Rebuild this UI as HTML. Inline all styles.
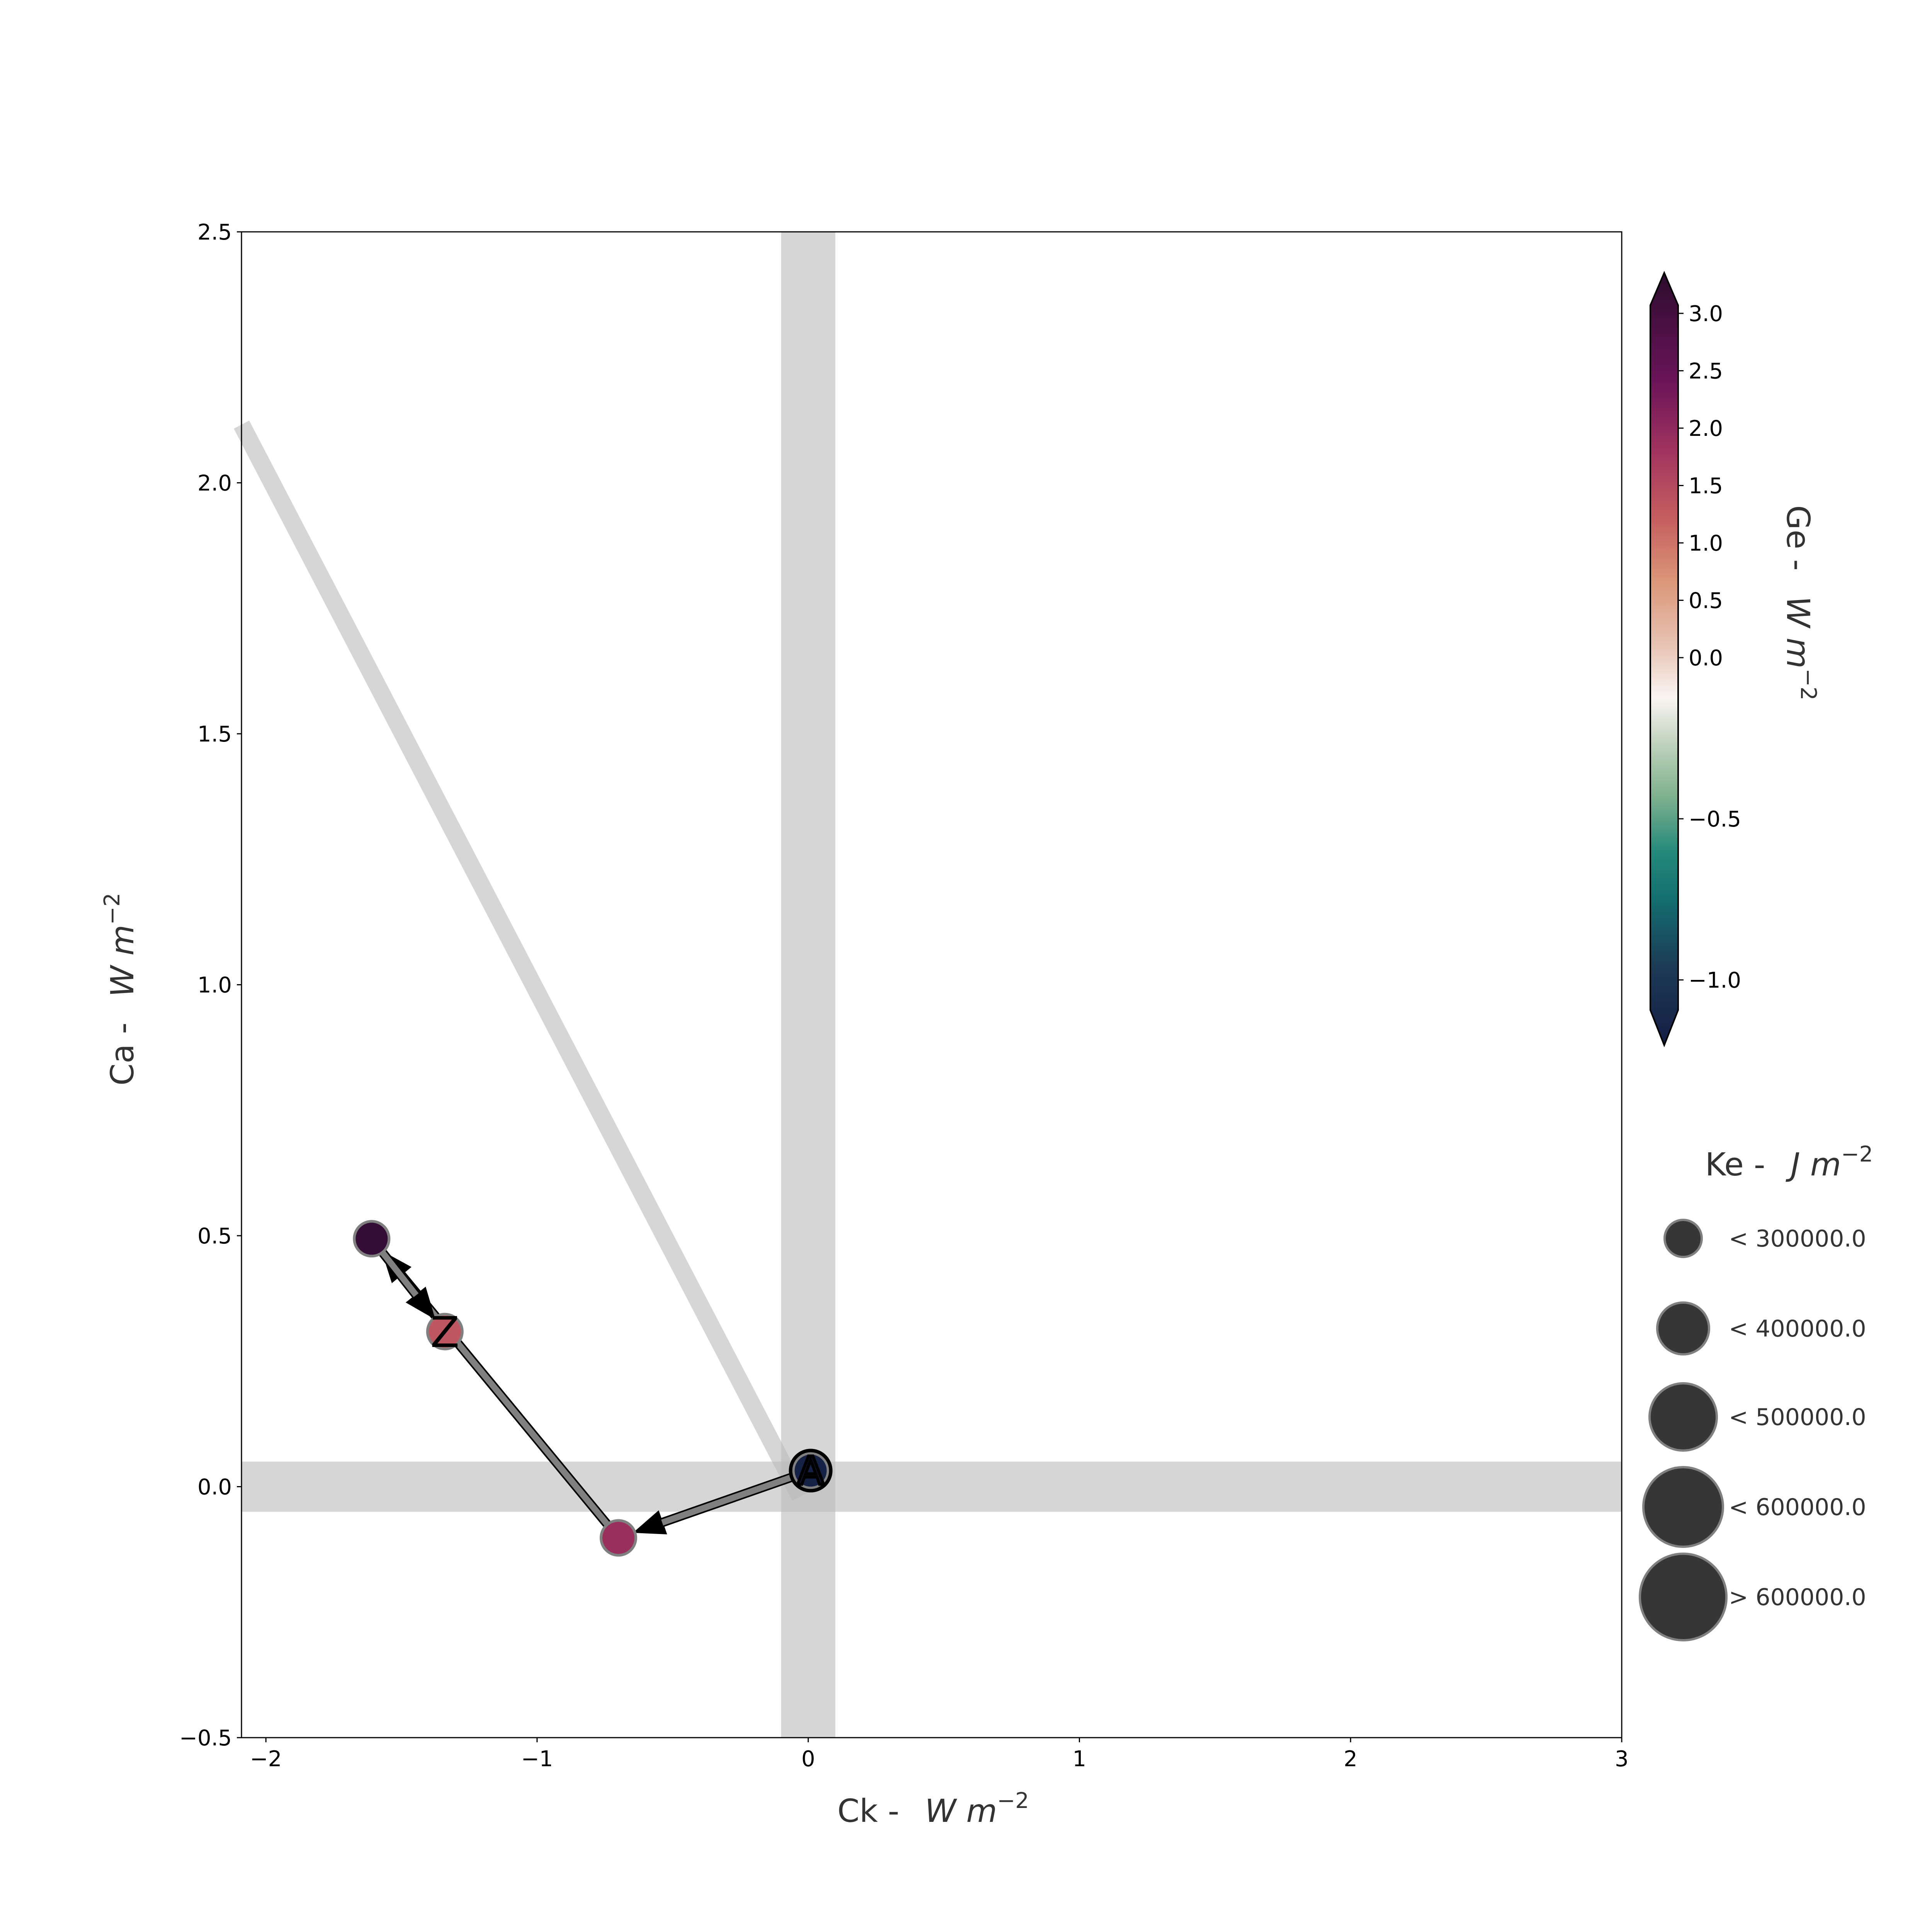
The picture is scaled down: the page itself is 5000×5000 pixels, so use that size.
<!DOCTYPE html>
<html><head><meta charset="utf-8"><style>
html,body{margin:0;padding:0;background:#fff;}
svg{display:block;font-family:"DejaVu Sans","Liberation Sans",sans-serif;}
</style></head><body>
<svg id="chart" width="5000" height="5000" viewBox="0 0 5000 5000" xmlns="http://www.w3.org/2000/svg">
<defs>
<linearGradient id="cbgrad" x1="0" y1="1" x2="0" y2="0" gradientUnits="objectBoundingBox">
<stop offset="0" stop-color="#151d44"/>
<stop offset="0.10" stop-color="#1c3a55"/>
<stop offset="0.19" stop-color="#136f70"/>
<stop offset="0.25" stop-color="#24897a"/>
<stop offset="0.32" stop-color="#7cb08e"/>
<stop offset="0.39" stop-color="#c0d2bd"/>
<stop offset="0.45" stop-color="#faf5f2"/>
<stop offset="0.52" stop-color="#e7c2b2"/>
<stop offset="0.60" stop-color="#db9779"/>
<stop offset="0.68" stop-color="#c65f5f"/>
<stop offset="0.77" stop-color="#a0335f"/>
<stop offset="0.86" stop-color="#6a1458"/>
<stop offset="1" stop-color="#2c0c2e"/>
</linearGradient>
</defs>
<g id="plot"></g>
</svg>
<script>
// ---- data ----
const pointX = [0.009, -0.70, -1.61, -1.34];
const pointY = [0.032, -0.102, 0.494, 0.309];
const pointGe = [-1.15, 2.1, 3.0, 1.55];
const xTicks = [-2, -1, 0, 1, 2, 3];
const yTicks = [-0.5, 0.0, 0.5, 1.0, 1.5, 2.0, 2.5];
const cbTicks = [3.0, 2.5, 2.0, 1.5, 1.0, 0.5, 0.0, -0.5, -1.0];
const sizeLabels = ["< 300000.0", "< 400000.0", "< 500000.0", "< 600000.0", "> 600000.0"];
const sizeRadii = [48, 67, 87, 103, 112];

const NS = "http://www.w3.org/2000/svg";
const g = document.getElementById('plot');
function el(tag, attrs, parent) {
  const e = document.createElementNS(NS, tag);
  for (const k in attrs) e.setAttribute(k, attrs[k]);
  (parent || g).appendChild(e);
  return e;
}
const L = 625, R = 4197, T = 600, B = 4497;
const xmin = -2.09, xmax = 3, ymin = -0.5, ymax = 2.5;
const sx = v => L + (v - xmin) / (xmax - xmin) * (R - L);
const sy = v => B - (v - ymin) / (ymax - ymin) * (B - T);

// colormap
const cmapStops = [[-1.2,[21,29,68]],[-0.8,[28,58,85]],[-0.6,[19,111,112]],[-0.4,[36,137,122]],[-0.2,[168,200,168]],[0,[250,245,242]],[0.5,[227,176,152]],[1.0,[215,135,110]],[1.5,[194,91,98]],[2.0,[163,54,94]],[2.5,[106,20,88]],[3.0,[51,13,53]],[3.3,[40,10,42]]];
function cmap(v){
  for(let i=0;i<cmapStops.length-1;i++){
    const a=cmapStops[i],b=cmapStops[i+1];
    if(v<=b[0]||i===cmapStops.length-2){
      let t=Math.max(0,Math.min(1,(v-a[0])/(b[0]-a[0])));
      const c=a[1].map((x,j)=>Math.round(x+(b[1][j]-x)*t));
      return `rgb(${c[0]},${c[1]},${c[2]})`;
    }
  }
}

// bands
let e;
e = el('rect',{x:sx(-0.1),y:T,width:sx(0.1)-sx(-0.1),height:B-T,fill:'#bbbbbb','fill-opacity':0.6});


e = el('rect',{x:L,y:sy(0.05),width:R-L,height:sy(-0.05)-sy(0.05),fill:'#bbbbbb','fill-opacity':0.6});


e = el('line',{x1:sx(xmin),y1:sy(2.116),x2:sx(-0.03),y2:sy(-0.02),stroke:'#bbbbbb','stroke-opacity':0.6,'stroke-width':45});



// axes frame
e = el('rect',{x:L,y:T,width:R-L,height:B-T,fill:'none',stroke:'#000','stroke-width':3});



// ticks
xTicks.forEach(v=>{
  const x=sx(v);
  el('line',{x1:x,y1:B,x2:x,y2:B+12,stroke:'#000','stroke-width':3});
  const t=el('text',{x:x,y:B+74,'font-size':56,'text-anchor':'middle',fill:'#000'});
  t.textContent=(v<0?"\u2212":"")+Math.abs(v);
  
  
});
yTicks.forEach(v=>{
  const y=sy(v);
  el('line',{x1:L,y1:y,x2:L-12,y2:y,stroke:'#000','stroke-width':3});
  const t=el('text',{x:L-25,y:y+20,'font-size':56,'text-anchor':'end',fill:'#000'});
  t.textContent=(v<0?"\u2212":"")+Math.abs(v).toFixed(1);
  
  
});

// axis labels
e = el('text',{x:2415,y:4715,'font-size':82,'text-anchor':'middle',fill:'#333'});
e.innerHTML='Ck -  <tspan font-style="italic" dx="40">W m</tspan><tspan font-size="56" dy="-36">−2</tspan>';


e = el('text',{x:0,y:0,'font-size':82,'text-anchor':'middle',fill:'#333',transform:'translate(345,2560) rotate(-90)'});
e.innerHTML='Ca -  <tspan font-style="italic" dx="40">W m</tspan><tspan font-size="56" dy="-36">−2</tspan>';



// arrows
function arrow(i,j){
  const x1=sx(pointX[i]),y1=sy(pointY[i]),x2=sx(pointX[j]),y2=sy(pointY[j]);
  const dx=x2-x1,dy=y2-y1,len=Math.hypot(dx,dy),ux=dx/len,uy=dy/len,px=-uy,py=ux;
  const ex=x2-ux*45,ey=y2-uy*45;
  const hl=75,hw=30,sw=10;
  const bx=ex-ux*hl,by=ey-uy*hl;
  const pts=[[x1+px*sw,y1+py*sw],[bx+px*sw,by+py*sw],[bx+px*hw,by+py*hw],[ex,ey],[bx-px*hw,by-py*hw],[bx-px*sw,by-py*sw],[x1-px*sw,y1-py*sw]];
  const a=el('polygon',{points:pts.map(p=>p.join(',')).join(' '),fill:'#808080',stroke:'#000','stroke-width':4});
  
  
  const h=el('polygon',{points:[pts[2],pts[3],pts[4]].map(p=>p.join(',')).join(' '),fill:'#000'});
  
  
}
arrow(0,1); arrow(1,2); arrow(2,3);

// points
pointX.forEach((v,i)=>{
  const c=el('circle',{cx:sx(v),cy:sy(pointY[i]),r:45,fill:cmap(pointGe[i]),stroke:'#808080','stroke-width':7});
  
  
});
e = el('circle',{cx:sx(pointX[0]),cy:sy(pointY[0]),r:52,fill:'none',stroke:'#000','stroke-width':9});


e = el('text',{x:sx(pointX[0]),y:sy(pointY[0])+35,'font-size':100,'text-anchor':'middle',fill:'none',stroke:'#000','stroke-width':8});
e.textContent='A';


e = el('text',{x:sx(pointX[3]),y:sy(pointY[3])+40,'font-size':110,'text-anchor':'middle',fill:'#000'});
e.textContent='Z';



// colorbar
const cbX=4271, cbW=72, cbTop=790, cbBot=2614;
const cby = v => v>=0 ? 1702 - v*297 : 1702 - v*834;
const cb=el('path',{d:`M${cbX},${cbTop} L${cbX+cbW/2},706 L${cbX+cbW},${cbTop} L${cbX+cbW},${cbBot} L${cbX+cbW/2},2705 L${cbX},${cbBot} Z`,fill:'url(#cbgrad)',stroke:'#000','stroke-width':4});


cbTicks.forEach(v=>{
  const y=cby(v);
  el('line',{x1:cbX+cbW,y1:y,x2:cbX+cbW+14,y2:y,stroke:'#000','stroke-width':3});
  const t=el('text',{x:cbX+cbW+27,y:y+20,'font-size':56,fill:'#000'});
  t.textContent=(v<0?"\u2212":"")+Math.abs(v).toFixed(1);
  
  
});
e = el('text',{x:0,y:0,'font-size':82,'text-anchor':'middle',fill:'#333',transform:'translate(4625,1560) rotate(90)'});
e.innerHTML='Ge -  <tspan font-style="italic" dx="40">W m</tspan><tspan font-size="56" dy="-36">−2</tspan>';



// size legend
e = el('text',{x:4630,y:3042,'font-size':82,'text-anchor':'middle',fill:'#333'});
e.innerHTML='Ke -  <tspan font-style="italic" dx="40">J m</tspan><tspan font-size="56" dy="-36">−2</tspan>';


const legY=[3205,3438,3667,3900,4133];
sizeLabels.forEach((lab,i)=>{
  const c=el('circle',{cx:4356,cy:legY[i],r:sizeRadii[i],fill:'#363636',stroke:'#808080','stroke-width':6});
  
  
  const t=el('text',{x:4474,y:legY[i]+21,'font-size':60,fill:'#333'});
  t.textContent=lab;
  
  
});
</script>
</body></html>
